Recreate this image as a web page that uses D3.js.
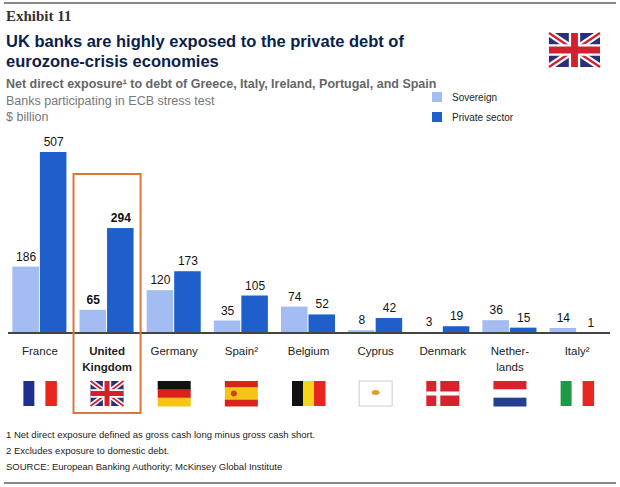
<!DOCTYPE html>
<html><head><meta charset="utf-8">
<script src="https://cdn.jsdelivr.net/npm/d3@7"></script>
<style>body{margin:0;background:#fff}text{font-family:"Liberation Sans",Arial,sans-serif}</style>
</head><body><svg id="c" width="620" height="487"></svg>
<script>
const countries = ["France", "United Kingdom", "Germany", "Spain", "Belgium", "Cyprus", "Denmark", "Netherlands", "Italy"];
const labels = [["France"], ["United", "Kingdom"], ["Germany"], ["Spain²"], ["Belgium"], ["Cyprus"], ["Denmark"], ["Nether-", "lands"], ["Italy²"]];
const sovereign = [186, 65, 120, 35, 74, 8, 3, 36, 14];
const privateSector = [507, 294, 173, 105, 52, 42, 19, 15, 1];

const svg = d3.select("#c");
const base = 333;
const x = d3.scaleBand().domain(countries).range([9, 608]).paddingInner(0.18).paddingOuter(0.05);
const y = d3.scaleLinear().domain([0, 507]).range([base, 152]);
const light = "#a3bdf2", dark = "#1e5fcb";

svg.append("line").attr("x1", 4).attr("x2", 616).attr("y1", 3).attr("y2", 3).attr("stroke", "#888").attr("stroke-width", 2);
svg.append("line").attr("x1", 4).attr("x2", 616).attr("y1", 483).attr("y2", 483).attr("stroke", "#888").attr("stroke-width", 2);
svg.append("text").attr("x", 6).attr("y", 21).style("font-family", "Liberation Serif,serif").attr("font-weight", "bold").attr("font-size", 15).attr("fill", "#333").text("Exhibit 11");
[["UK banks are highly exposed to the private debt of", 47], ["eurozone-crisis economies", 67]].forEach(([t, yy]) =>
  svg.append("text").attr("x", 6).attr("y", yy).attr("font-weight", "bold").attr("font-size", 16.5).attr("fill", "#0b1f4b").text(t));
svg.append("text").attr("x", 6).attr("y", 88).attr("font-weight", "bold").attr("font-size", 12.5).attr("fill", "#666").text("Net direct exposure¹ to debt of Greece, Italy, Ireland, Portugal, and Spain");
svg.append("text").attr("x", 6).attr("y", 105).attr("font-size", 12.5).attr("fill", "#777").text("Banks participating in ECB stress test");
svg.append("text").attr("x", 6).attr("y", 121).attr("font-size", 12.5).attr("fill", "#777").text("$ billion");

[[light, "Sovereign", 97], [dark, "Private sector", 117]].forEach(([c, t, yy]) => {
  svg.append("rect").attr("x", 432).attr("y", yy - 5).attr("width", 10).attr("height", 10).attr("fill", c);
  svg.append("text").attr("x", 452).attr("y", yy + 4).attr("font-size", 10).attr("fill", "#222").text(t);
});

// bars
const bw = x.bandwidth() / 2;
countries.forEach((c, i) => {
  const g = svg.append("g");
  [[sovereign[i], light, 0], [privateSector[i], dark, bw]].forEach(([v, col, off]) => {
    g.append("rect").attr("x", x(c) + off).attr("y", y(v)).attr("width", bw - 1).attr("height", base - y(v)).attr("fill", col);
    g.append("text").attr("x", x(c) + off + bw / 2).attr("y", y(v) - 6).attr("text-anchor", "middle")
      .attr("font-size", 12).attr("font-weight", i === 1 ? "bold" : "normal").attr("fill", "#111").text(v);
  });
  labels[i].forEach((l, j) => svg.append("text").attr("x", x(c) + x.bandwidth() / 2).attr("y", 355 + j * 16)
    .attr("text-anchor", "middle").attr("font-size", 11.5).attr("font-weight", i === 1 ? "bold" : "normal").attr("fill", "#222").text(l));
});
svg.append("line").attr("x1", 8).attr("x2", 610).attr("y1", base).attr("y2", base).attr("stroke", "#444").attr("stroke-width", 2);

// UK highlight
svg.append("rect").attr("x", x("United Kingdom") - 6).attr("y", 174).attr("width", x.bandwidth() + 12).attr("height", 239)
  .attr("fill", "none").attr("stroke", "#d9773a").attr("stroke-width", 2);

// flags
function ukFlag(g, w, h) {
  g.append("rect").attr("width", w).attr("height", h).attr("fill", "#2b2f7a");
  g.append("path").attr("d", `M0,0L${w},${h}M${w},0L0,${h}`).attr("stroke", "#fff").attr("stroke-width", h / 5);
  g.append("path").attr("d", `M0,0L${w},${h}M${w},0L0,${h}`).attr("stroke", "#d2202c").attr("stroke-width", h / 15);
  g.append("path").attr("d", `M${w / 2},0V${h}M0,${h / 2}H${w}`).attr("stroke", "#fff").attr("stroke-width", h / 3);
  g.append("path").attr("d", `M${w / 2},0V${h}M0,${h / 2}H${w}`).attr("stroke", "#d2202c").attr("stroke-width", h / 5);
}
function vert(g, w, h, cols) { cols.forEach((c, k) => g.append("rect").attr("x", k * w / 3).attr("width", w / 3 + 0.5).attr("height", h).attr("fill", c)); }
function horiz(g, w, h, cols, fr) { let yy = 0; cols.forEach((c, k) => { g.append("rect").attr("y", yy).attr("width", w).attr("height", h * fr[k] + 0.5).attr("fill", c); yy += h * fr[k]; }); }
const fw = 33, fh = 25;
const flagDraw = [
  g => vert(g, fw, fh, ["#1f2f8f", "#fff", "#e8261f"]),
  g => ukFlag(g, fw, fh),
  g => horiz(g, fw, fh, ["#111", "#dd1f1f", "#f6c416"], [1 / 3, 1 / 3, 1 / 3]),
  g => { horiz(g, fw, fh, ["#d8251c", "#f6c416", "#d8251c"], [0.25, 0.5, 0.25]); g.append("circle").attr("cx", 9).attr("cy", fh / 2).attr("r", 3).attr("fill", "#c24a1a"); },
  g => vert(g, fw, fh, ["#111", "#f6d416", "#e8261f"]),
  g => { g.append("rect").attr("width", fw).attr("height", fh).attr("fill", "#fff").attr("stroke", "#ccc"); g.append("ellipse").attr("cx", fw / 2).attr("cy", fh / 2 - 1).attr("rx", 4).attr("ry", 2.5).attr("fill", "#e0a030"); },
  g => { g.append("rect").attr("width", fw).attr("height", fh).attr("fill", "#d8232e"); g.append("rect").attr("x", 10).attr("width", 4).attr("height", fh).attr("fill", "#fff"); g.append("rect").attr("y", fh / 2 - 2).attr("width", fw).attr("height", 4).attr("fill", "#fff"); },
  g => horiz(g, fw, fh, ["#d8232e", "#fff", "#24408e"], [1 / 3, 1 / 3, 1 / 3]),
  g => vert(g, fw, fh, ["#1e9a46", "#fff", "#e8261f"])
];
countries.forEach((c, i) => flagDraw[i](svg.append("g").attr("transform", `translate(${x(c) + x.bandwidth() / 2 - fw / 2},381)`)));
ukFlag(svg.append("g").attr("transform", "translate(549,33)"), 51, 34);

["1 Net direct exposure defined as gross cash long minus gross cash short.", "2 Excludes exposure to domestic debt.", "SOURCE: European Banking Authority; McKinsey Global Institute"]
  .forEach((t, k) => svg.append("text").attr("x", 6).attr("y", 438 + k * 16).attr("font-size", 9.5).attr("fill", "#222").text(t));
</script></body></html>
